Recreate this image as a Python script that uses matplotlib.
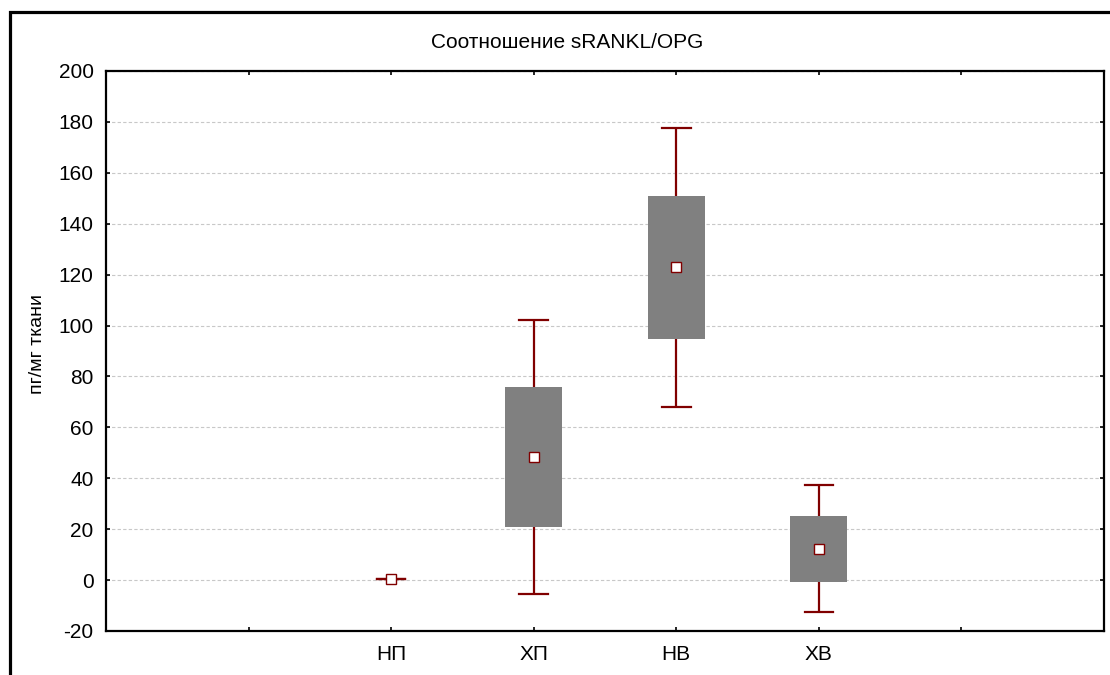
import numpy as np
import matplotlib
matplotlib.use("Agg")
import matplotlib.pyplot as plt
from matplotlib.patches import Rectangle

plt.rcParams['font.family'] = ['Liberation Sans', 'DejaVu Sans']
plt.rcParams['axes.unicode_minus'] = False

# groups and their summary statistics (mean, box = mean ± SE, whiskers = mean ± 1.96 SE)
groups = ["НП", "ХП", "НВ", "ХВ"]
positions = [2, 3, 4, 5]
means = [0.3, 48.3, 123.0, 12.2]
box_lo = [0.3, 20.8, 94.7, -0.6]
box_hi = [0.3, 75.8, 150.9, 25.0]
whisk_lo = [0.3, -5.5, 68.0, -12.6]
whisk_hi = [0.3, 102.2, 177.5, 37.2]
y_ticks = list(range(-20, 201, 20))

W, H = 1110, 675
fig = plt.figure(figsize=(W / 100, H / 100), dpi=100)
ax = fig.add_axes([106 / W, 1 - 631 / H, (1104 - 106) / W, (631 - 71) / H])

box_w = 0.40
cap_w = 0.20
red = "#800000"

for x, m, bl, bh, wl, wh in zip(positions, means, box_lo, box_hi, whisk_lo, whisk_hi):
    if bh > bl:
        ax.add_patch(Rectangle((x - box_w / 2, bl), box_w, bh - bl,
                               facecolor="#808080", edgecolor="none", zorder=2))
    ax.plot([x, x], [bh, wh], color=red, lw=1.6, zorder=3, solid_capstyle="butt")
    ax.plot([x, x], [wl, bl], color=red, lw=1.6, zorder=3, solid_capstyle="butt")
    ax.plot([x - cap_w / 2, x + cap_w / 2], [wh, wh], color=red, lw=1.6, zorder=3)
    ax.plot([x - cap_w / 2, x + cap_w / 2], [wl, wl], color=red, lw=1.6, zorder=3)
    ax.plot(x, m, marker="s", ms=6.5, mfc="white", mec=red, mew=1.0, zorder=4)

ax.set_xlim(0, 7)
ax.set_ylim(-20, 200)
ax.set_xticks(range(1, 7))
ax.set_xticklabels([""] + groups + [""])
ax.set_yticks(y_ticks)
ax.yaxis.grid(True, color="#c8c8c8", linestyle=(0, (3, 2)), lw=0.8)
ax.set_axisbelow(True)
ax.tick_params(direction="in", length=3, width=1.2, top=True, right=True,
               labelsize=15, pad=9)
ax.tick_params(axis="x", pad=10)
for s in ax.spines.values():
    s.set_linewidth(1.6)

fig.text(567 / W, 1 - 42 / H, "Соотношение sRANKL/OPG", ha="center", va="center",
         fontsize=15)
fig.text(37 / W, 1 - 344 / H, "пг/мг ткани", rotation=90, ha="center",
         va="center", fontsize=14)

# outer frame running off the right and bottom edges
fig.add_artist(Rectangle((10 / W, -0.1), 1.2, 1.1 - 12 / H, transform=fig.transFigure,
                         fill=False, edgecolor="black", lw=2.3))

fig.savefig("out.png", dpi=100)
